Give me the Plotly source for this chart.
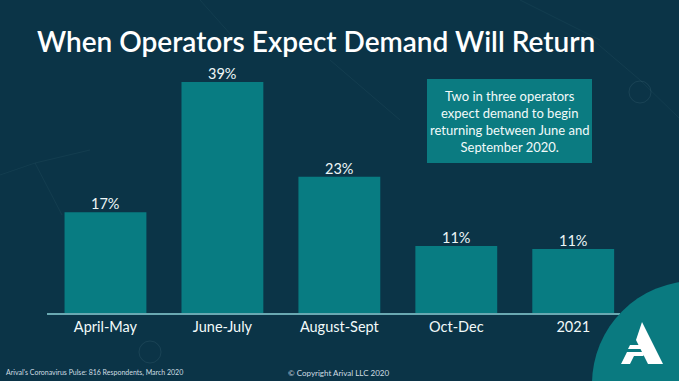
import plotly.graph_objects as go

# ---- data ----
categories = ["April-May", "June-July", "August-Sept", "Oct-Dec", "2021"]
values = [17, 39, 23, 11.3, 10.8]
value_labels = ["17%", "39%", "23%", "11%", "11%"]
title_text = "When Operators Expect Demand Will Return"
callout_lines = ["Two in three operators", "expect demand to begin",
                 "returning between June and", "September 2020."]
source_text = "Arival's Coronavirus Pulse: 816 Respondents, March 2020"
copyright_text = "© Copyright Arival LLC 2020"

# ---- layout constants ----
W, H = 679, 381
L, R, T, B = 47, 59, 47, 68
PW, PH = W - L - R, H - T - B
BG = "#0b3447"
TEAL = "#087c82"
FONT = "Lato"


def fx(px):
    return (px - L) / PW


def fy(py):
    return (H - B - py) / PH


fig = go.Figure()
fig.add_trace(go.Bar(
    x=categories, y=values,
    marker=dict(color=TEAL, line=dict(width=0)),
    hoverinfo="skip",
))

shapes = []
faint = "rgba(160,200,210,0.06)"
# faint decorative lines
for (x0, y0, x1, y1) in [(593, 40, 640, 80), (640, 80, 679, 118), (0, 175, 35, 163),
                         (35, 163, 62, 215), (35, 163, 90, 150), (200, 0, 240, 45),
                         (520, 0, 600, 40), (330, 60, 400, 120)]:
    shapes.append(dict(type="line", xref="paper", yref="paper",
                       x0=fx(x0), y0=fy(y0), x1=fx(x1), y1=fy(y1),
                       line=dict(color=faint, width=1), layer="below"))
# faint circle icons
for (cx, cy, r) in [(640, 92, 11), (150, 352, 11)]:
    shapes.append(dict(type="circle", xref="paper", yref="paper",
                       x0=fx(cx - r), x1=fx(cx + r), y0=fy(cy + r), y1=fy(cy - r),
                       line=dict(color="rgba(160,200,210,0.10)", width=1), layer="below"))
# callout box
shapes.append(dict(type="rect", xref="paper", yref="paper",
                   x0=fx(427), x1=fx(592), y0=fy(163), y1=fy(79),
                   fillcolor="#0b7b81", line=dict(width=0)))
# bottom-right circle
cx, cy, r = 695, 384, 103
shapes.append(dict(type="circle", xref="paper", yref="paper",
                   x0=fx(cx - r), x1=fx(cx + r), y0=fy(cy + r), y1=fy(cy - r),
                   fillcolor="#0a7a80", line=dict(width=0), layer="above"))


def path(pts):
    return "M " + " L ".join(f"{fx(a):.5f},{fy(b):.5f}" for a, b in pts) + " Z"


# logo (white "A")
shapes.append(dict(type="path", xref="paper", yref="paper",
                   path=path([(642, 322), (663, 364), (648, 364), (636, 340)]),
                   fillcolor="white", line=dict(width=0)))
shapes.append(dict(type="path", xref="paper", yref="paper",
                   path=path([(630, 345), (645, 345), (649, 349), (628, 349)]),
                   fillcolor="white", line=dict(width=0)))
shapes.append(dict(type="path", xref="paper", yref="paper",
                   path=path([(627, 352), (647, 352), (643, 356), (634, 356), (630, 364), (621, 364)]),
                   fillcolor="white", line=dict(width=0)))

annotations = [
    dict(text="<br>".join(callout_lines), xref="paper", yref="paper",
         x=fx(510), y=fy(122), xanchor="center", yanchor="middle", showarrow=False,
         align="center", font=dict(family=FONT, size=13, color="#f2fafa")),
    dict(text=source_text, xref="paper", yref="paper", x=fx(4), y=fy(373),
         xanchor="left", yanchor="middle", showarrow=False,
         font=dict(family=FONT, size=7, color="#cfdde2")),
    dict(text=copyright_text, xref="paper", yref="paper", x=fx(338), y=fy(373),
         xanchor="center", yanchor="middle", showarrow=False,
         font=dict(family=FONT, size=8, color="#cfdde2")),
]
# value labels above bars, placed in data coordinates (category index on x)
for i, (val, lab) in enumerate(zip(values, value_labels)):
    annotations.append(dict(text=lab, x=i, y=val, xref="x", yref="y",
                            xanchor="center", yanchor="bottom", yshift=-2,
                            showarrow=False,
                            font=dict(family=FONT, size=14.5, color="#eef7f7")))

fig.update_layout(
    width=W, height=H, margin=dict(l=L, r=R, t=T, b=B),
    paper_bgcolor=BG, plot_bgcolor=BG,
    title=dict(text=title_text, xref="container", yref="container",
               x=37 / W, y=1 - 42 / H, xanchor="left", yanchor="middle",
               font=dict(family=FONT, size=28, color="white", weight=600)),
    bargap=0.3, showlegend=False,
    shapes=shapes, annotations=annotations,
    xaxis=dict(type="category", range=[-0.5, 4.4], showline=True, linecolor="#6aa9b2",
               linewidth=1.5, showgrid=False, zeroline=False, ticks="",
               tickfont=dict(family=FONT, size=14.5, color="#f2fafa")),
    yaxis=dict(range=[0, 44.9], visible=False, showgrid=False, zeroline=False),
)

fig.write_html("out.html", config={"displayModeBar": False},
               post_script="document.body.style.margin='0';document.body.style.padding='0';")
